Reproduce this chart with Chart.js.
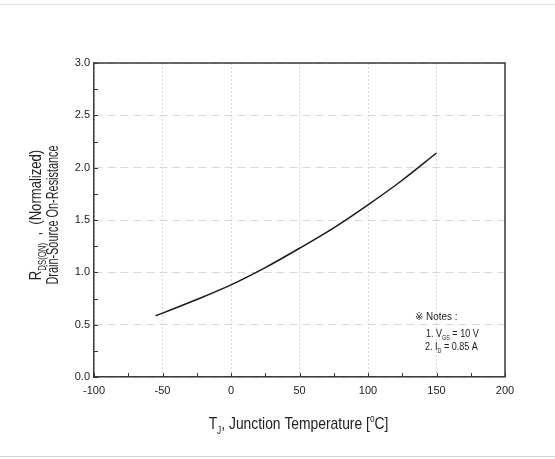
<!DOCTYPE html>
<html>
<head>
<meta charset="utf-8">
<script src="https://cdn.jsdelivr.net/npm/chart.js@4/dist/chart.umd.min.js"></script>
<style>
  html, body { margin: 0; padding: 0; background: #fff; }
  #wrap { position: relative; width: 555px; height: 459px; overflow: hidden; }
  canvas { display: block; }
  .rule { position: absolute; left: 0; width: 555px; height: 1px; }
</style>
</head>
<body>
<div id="wrap">
  <canvas id="c" width="555" height="459"></canvas>
  <div class="rule" style="top:4px;background:#e8e8e8"></div>
  <div class="rule" style="top:456px;background:#d2d2d2"></div>
</div>
<script>
// Normalized on-resistance vs junction temperature
const temperatures = [-55, -50, -25, 0, 25, 50, 75, 100, 125, 150];
const resistance   = [0.585, 0.61, 0.74, 0.88, 1.045, 1.23, 1.425, 1.645, 1.88, 2.14];
const xTicks = [-100, -50, 0, 50, 100, 150, 200];
const yTicks = [0, 0.5, 1.0, 1.5, 2.0, 2.5, 3.0];
const xMinorStep = 25;
const yMinorStep = 0.25;

const FAMILY = '"Liberation Sans", Arial, "DejaVu Sans", "Noto Sans CJK JP", sans-serif';
const INK = '#222';

function fontOf(size) { return size + 'px ' + FAMILY; }

// Text runs with optional subscript / superscript pieces
function runWidth(ctx, segs, size) {
  let w = 0;
  for (const s of segs) {
    ctx.font = fontOf(s.sub || s.sup ? size * 0.6 : size);
    w += ctx.measureText(s.t).width;
  }
  return w;
}
function drawRun(ctx, segs, x, y, size, sx, align) {
  ctx.save();
  ctx.translate(x, y);
  ctx.scale(sx, 1);
  ctx.textBaseline = 'alphabetic';
  ctx.textAlign = 'left';
  ctx.fillStyle = INK;
  const w = runWidth(ctx, segs, size);
  let cx = align === 'center' ? -w / 2 : 0;
  for (const s of segs) {
    const sz = s.sub || s.sup ? size * 0.6 : size;
    ctx.font = fontOf(sz);
    const dy = s.sub ? size * 0.28 : (s.sup ? -size * 0.42 : 0);
    ctx.fillText(s.t, cx, dy);
    cx += ctx.measureText(s.t).width;
  }
  ctx.restore();
}

const frameAndLabels = {
  id: 'frameAndLabels',
  afterDraw(chart) {
    const { ctx, chartArea: a, scales } = chart;
    ctx.save();
    // top and right edges of the frame
    ctx.strokeStyle = '#3a3a3a';
    ctx.lineWidth = 1.5;
    ctx.beginPath();
    ctx.moveTo(a.left, a.top);
    ctx.lineTo(a.right, a.top);
    ctx.lineTo(a.right, a.bottom);
    ctx.stroke();

    // inward tick marks on bottom and left axes
    ctx.lineWidth = 1;
    ctx.beginPath();
    for (let v = scales.x.min; v <= scales.x.max + 1e-9; v += xMinorStep) {
      const px = Math.round(scales.x.getPixelForValue(v)) + 0.5;
      ctx.moveTo(px, a.bottom);
      ctx.lineTo(px, a.bottom - 4);
    }
    for (let v = scales.y.min; v <= scales.y.max + 1e-9; v += yMinorStep) {
      const py = Math.round(scales.y.getPixelForValue(v)) + 0.5;
      ctx.moveTo(a.left, py);
      ctx.lineTo(a.left + 4, py);
    }
    ctx.stroke();
    ctx.restore();

    // x axis title
    drawRun(ctx, [
      { t: 'T' }, { t: 'J', sub: true }, { t: ', Junction Temperature [' },
      { t: 'o', sup: true }, { t: 'C]' }
    ], (a.left + a.right) / 2 - 1, 429, 17, 0.815, 'center');

    // y axis title, two rotated lines
    const midY = (a.top + a.bottom) / 2 - 5;
    ctx.save();
    ctx.translate(41, midY);
    ctx.rotate(-Math.PI / 2);
    drawRun(ctx, [
      { t: 'R' }, { t: 'DS(ON)', sub: true }, { t: '  ,  (Normalized)' }
    ], 0, 0, 17, 0.77, 'center');
    ctx.restore();
    ctx.save();
    ctx.translate(58, midY);
    ctx.rotate(-Math.PI / 2);
    drawRun(ctx, [{ t: 'Drain-Source On-Resistance' }], 0, 0, 17, 0.64, 'center');
    ctx.restore();

    // test-condition notes
    drawRun(ctx, [{ t: '\u203B Notes :' }], 415, 320, 11, 0.9, 'left');
    drawRun(ctx, [
      { t: '1. V' }, { t: 'GS', sub: true }, { t: ' = 10 V' }
    ], 426, 337, 11, 0.82, 'left');
    drawRun(ctx, [
      { t: '2. I' }, { t: 'D', sub: true }, { t: ' = 0.85 A' }
    ], 425, 350, 11, 0.82, 'left');
  }
};

new Chart(document.getElementById('c'), {
  type: 'scatter',
  data: {
    datasets: [{
      data: temperatures.map((t, i) => ({ x: t, y: resistance[i] })),
      showLine: true,
      borderColor: '#1a1a1a',
      borderWidth: 1.5,
      pointRadius: 0,
      cubicInterpolationMode: 'monotone'
    }]
  },
  options: {
    responsive: false,
    animation: false,
    devicePixelRatio: 1,
    layout: { padding: { top: 63, right: 50, left: 0, bottom: 0 } },
    plugins: { legend: { display: false }, tooltip: { enabled: false } },
    scales: {
      x: {
        type: 'linear',
        min: xTicks[0],
        max: xTicks[xTicks.length - 1],
        afterBuildTicks: s => { s.ticks = xTicks.map(v => ({ value: v })); },
        afterFit: s => { s.height = 82; },
        ticks: {
          font: { family: FAMILY, size: 11 },
          color: INK,
          padding: 7,
          maxRotation: 0,
          callback: v => String(v)
        },
        grid: { color: '#d9d9d9', drawTicks: false, lineWidth: 1 },
        border: { color: '#3a3a3a', width: 1.5, dash: [2, 2] }
      },
      y: {
        type: 'linear',
        min: yTicks[0],
        max: yTicks[yTicks.length - 1],
        afterBuildTicks: s => { s.ticks = yTicks.map(v => ({ value: v })); },
        afterFit: s => { s.width = 94; },
        ticks: {
          font: { family: FAMILY, size: 11 },
          color: INK,
          padding: 4,
          callback: v => Number(v).toFixed(1)
        },
        grid: { color: '#d9d9d9', drawTicks: false, lineWidth: 1 },
        border: { color: '#3a3a3a', width: 1.5, dash: [8, 5] }
      }
    }
  },
  plugins: [frameAndLabels]
});
</script>
</body>
</html>
